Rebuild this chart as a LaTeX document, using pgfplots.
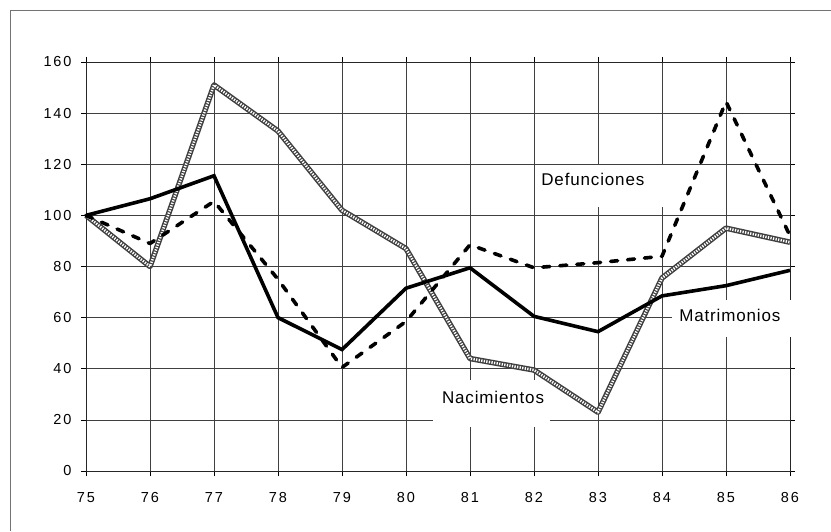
\documentclass[border=0pt]{standalone}
\usepackage{pgfplots}
\pgfplotsset{compat=1.18}
\usepackage{fontspec}
\setmainfont{Liberation Sans}
\newfontfamily\tickfont{Liberation Sans}[LetterSpace=13]
\newfontfamily\labfont{Liberation Sans}[LetterSpace=5]

\begin{document}
\begin{tikzpicture}
\useasboundingbox (0,0) rectangle (831pt,531pt);
\draw[black!55, line width=0.7pt] (10pt,0) -- (10pt,521pt) -- (831pt,521pt);
\begin{axis}[
  at={(86pt,60pt)}, anchor=south west,
  scale only axis=true,
  width=704pt, height=409pt,
  xmin=75, xmax=86,
  ymin=0, ymax=160,
  xtick={75,...,86},
  ytick={0,20,...,160},
  grid=major,
  major grid style={black!75, line width=0.6pt},
  axis line style={black!85, line width=0.6pt},
  tick align=outside,
  major tick length=5pt,
  tick style={black, line width=0.6pt},
  /pgf/number format/assume math mode=true,
  ticklabel style={font=\tickfont\fontsize{14.5}{16}\selectfont},
  yticklabel style={xshift=-6pt},
  xticklabel style={yshift=-13pt},
  clip=false,
]
% white boxes behind the series names
\fill[white] (axis cs:82.09,103.3) rectangle (axis cs:84.44,119.7);
\fill[white] (axis cs:84.16,52.4) rectangle (axis cs:86.2,66.9);
\fill[white] (axis cs:80.42,17.2) rectangle (axis cs:82.25,35.6);

% Nacimientos
\addplot[draw=black!75, line width=5.5pt, line join=round,
  postaction={draw=white, line width=2.6pt, dash pattern=on 1.3pt off 1.3pt}]
coordinates {
  (75,100)(76,80)(77,151)(78,133)(79,102)(80,87)
  (81,44)(82,39.5)(83,23)(84,75.5)(85,95)(86,89.5)
};

% Defunciones
\addplot[black, line width=3.6pt, line cap=round, line join=round,
  dash pattern=on 7pt off 10pt]
coordinates {
  (75,100)(76,89)(77,105.5)(78,75)(79,40.5)(80,58.5)
  (81,88.5)(82,79.5)(83,81.5)(84,84)(85,144.5)(86,92)
};

% Matrimonios
\addplot[black, line width=3.6pt, line join=miter]
coordinates {
  (75,100)(76,106.5)(77,115.5)(78,60)(79,47.5)(80,71.5)
  (81,79.5)(82,60.5)(83,54.5)(84,68.5)(85,72.5)(86,78.5)
};

\node[font=\labfont\fontsize{17}{19}\selectfont] at (axis cs:82.92,114.2) {Defunciones};
\node[font=\labfont\fontsize{17}{19}\selectfont] at (axis cs:85.06,61.0) {Matrimonios};
\node[font=\labfont\fontsize{17}{19}\selectfont] at (axis cs:81.36,28.6) {Nacimientos};
\end{axis}
\end{tikzpicture}
\end{document}
